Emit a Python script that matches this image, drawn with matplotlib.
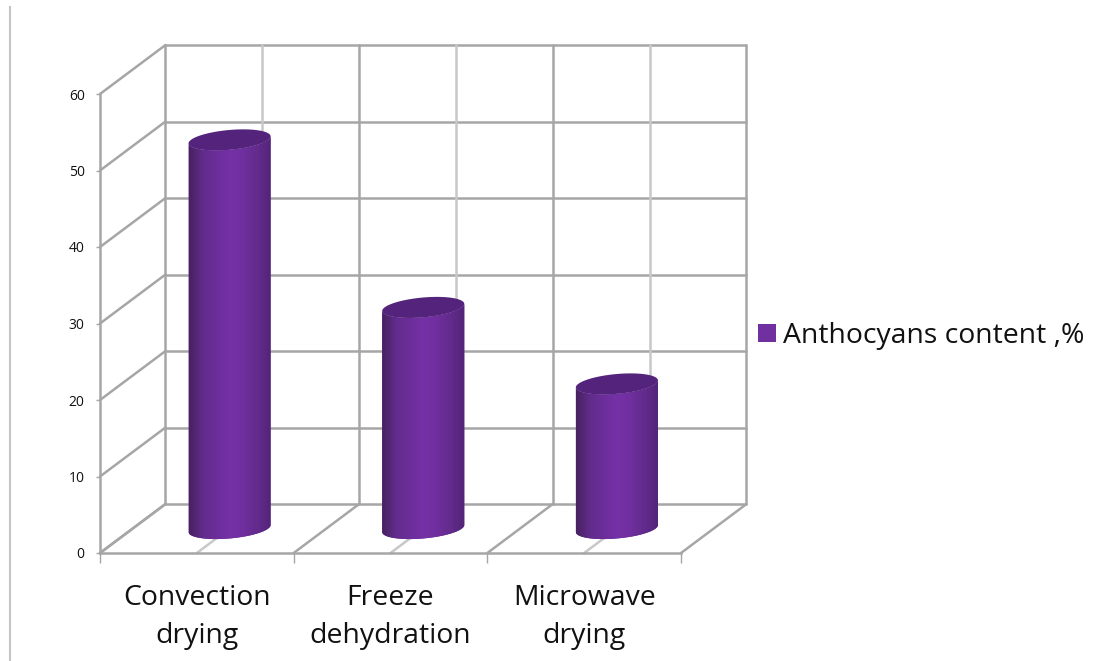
import matplotlib
matplotlib.use("Agg")
import matplotlib.pyplot as plt
import numpy as np
from matplotlib.colors import LinearSegmentedColormap
from matplotlib.lines import Line2D
from matplotlib.patches import PathPatch, Patch, Polygon
from matplotlib.path import Path

categories = ["Convection\ndrying", "Freeze\ndehydration", "Microwave\ndrying"]
values = [50.8, 28.9, 18.9]
yticks = [0, 10, 20, 30, 40, 50, 60]
series_name = "Anthocyans content ,%"

GRID = "#a6a6a6"
LIGHT = "#c8c8c8"
PURPLE = "#7030a0"
TOP = "#54247c"

# depth of the fake 3d box and cylinder shape, in data units
DX = 0.338
DY = 6.4
HALF_W = 0.212
ELL_B = 1.3
ELL_TILT = 0.46

plt.rcParams["font.family"] = ["Open Sans", "DejaVu Sans"]

fig = plt.figure(figsize=(11, 6.61), dpi=100)
ax = fig.add_axes([100 / 1100, 108 / 661, 581 / 1100, 459 / 661])
ax.set_xlim(0, len(categories))
ax.set_ylim(0, 60)


def line(xs, ys, color=GRID, lw=1.8, z=1):
    ax.plot(xs, ys, color=color, lw=lw, clip_on=False, zorder=z, solid_capstyle="round")


# back wall and left wall
for v in yticks:
    line([0, DX], [v, v + DY])
    line([DX, DX + len(categories)], [v + DY, v + DY])
for i in range(len(categories) + 1):
    line([DX + i, DX + i], [DY, 60 + DY])
    line([i, i + DX], [0, DY])
for i in range(len(categories)):
    line([DX + i + 0.5, DX + i + 0.5], [DY, 60 + DY], color=LIGHT)
    line([i + 0.5, i + 0.5 + DX], [0, DY], color=LIGHT)

cmap = LinearSegmentedColormap.from_list(
    "cyl", ["#48215f", "#612c8c", "#6c2e9a", "#7531a6", "#6f2f9e", "#622b8c", "#522478"]
)


def arc(cx, cy, t):
    return cx + HALF_W * np.cos(t), cy + ELL_B * np.sin(t) + ELL_TILT * np.cos(t)


for i, val in enumerate(values):
    cx = i + 0.5 + DX / 2
    y0 = DY / 2
    t = np.linspace(np.pi, 2 * np.pi, 60)
    bx, by = arc(cx, y0, t)
    tx, ty = arc(cx, y0 + val, t[::-1])
    body = np.vstack([np.column_stack([bx, by]), np.column_stack([tx, ty]), [[bx[0], by[0]]]])
    patch = PathPatch(Path(body), fc=PURPLE, ec="none", zorder=3, clip_on=False)
    ax.add_patch(patch)
    im = ax.imshow(
        np.linspace(0, 1, 128).reshape(1, -1),
        cmap=cmap,
        extent=[cx - HALF_W, cx + HALF_W, 0, val + DY],
        aspect="auto",
        zorder=4,
    )
    im.set_clip_path(patch)
    t = np.linspace(0, 2 * np.pi, 120)
    ex, ey = arc(cx, y0 + val, t)
    ax.add_patch(Polygon(np.column_stack([ex, ey]), closed=True, fc=TOP, ec="none", zorder=5, clip_on=False))

ax.set_xlim(0, len(categories))
ax.set_ylim(0, 60)

for side in ["top", "right"]:
    ax.spines[side].set_visible(False)
for side in ["left", "bottom"]:
    ax.spines[side].set_color(GRID)
    ax.spines[side].set_linewidth(1.8)

ax.set_yticks(yticks)
ax.tick_params(axis="y", length=3, width=1, color=GRID, labelsize=10, pad=8, labelcolor="#111111")
ax.set_xticks(np.arange(len(categories)) + 0.5)
ax.set_xticklabels(categories, fontsize=20.4, linespacing=1.52)
ax.tick_params(axis="x", length=0, pad=22, labelcolor="#111111")
# boundary ticks sit between the categories
ax.set_xticks(np.arange(len(categories) + 1), minor=True)
ax.tick_params(axis="x", which="minor", length=7, width=1, color=GRID)

handle = Patch(fc=PURPLE, ec="none")
fig.legend(
    handles=[handle],
    labels=[series_name],
    loc="center left",
    bbox_to_anchor=(752 / 1100, 1 - 336 / 661),
    frameon=False,
    fontsize=20.4,
    handlelength=0.64,
    handleheight=0.64,
    handletextpad=0.25,
    borderpad=0.2,
    borderaxespad=0,
    labelcolor="#111111",
)

fig.add_artist(Line2D([10 / 1100, 10 / 1100], [0, 1 - 7 / 661], color="#c4c4c4", lw=1.5))

fig.savefig("out.png", dpi=100)
